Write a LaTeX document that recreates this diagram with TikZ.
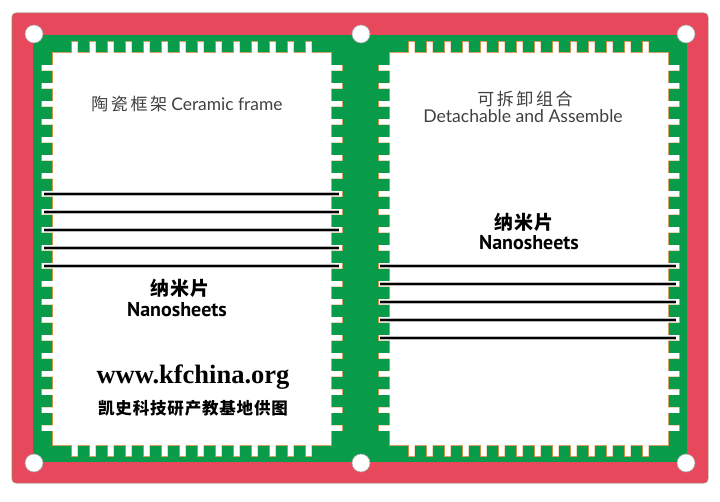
\documentclass[tikz,border=0pt]{standalone}
\usepackage{fontspec}
\setmainfont{Liberation Serif}
\newfontfamily\cjkfont{Noto Sans CJK SC}
\newfontfamily\cjkwide[LetterSpace=15]{Noto Sans CJK SC}
\newfontfamily\cjktight[LetterSpace=5]{Noto Sans CJK SC}
\newfontfamily\lightfont{Lato}
\newfontfamily\sheetfont{PT Sans}
\usepackage{tikz}

\definecolor{boardred}{RGB}{232,72,92}
\definecolor{boardgreen}{RGB}{8,156,74}
\definecolor{padedge}{RGB}{206,146,72}

\tikzset{
  paneledge/.style={draw=padedge,line width=1.4pt},
  panelfill/.style={fill=white},
  hole/.style={draw=gray!70,fill=white,line width=.6pt},
  sheet/.style={line width=2.6pt,preaction={draw=gray!55,line width=3.6pt}},
  thin label/.style={inner sep=0pt,text=black!75},
  bold label/.style={inner sep=0pt,text=black}
}

\begin{document}
\begin{tikzpicture}[x=1pt,y=-1pt]
  \useasboundingbox (0,0) rectangle (720,502);
  % board
  \draw[fill=boardred,draw=gray!60!brown,line width=.6pt,rounded corners=4pt] (12,13) rectangle (708,483);
  \fill[boardgreen] (33,35) rectangle (687,462);
  % white panels with their notches: edge first, then fill
  \foreach \l/\r in {53/331,390/668}
    \foreach \look in {paneledge,panelfill}
      \path[\look] (\l,53) rectangle (\r,445)
        \foreach \k in {0,...,13}{ (\l+19+18*\k,42) rectangle ++(5.5,11) (\l+19+18*\k,445) rectangle ++(5.5,11) }
        \foreach \k in {0,...,20}{ (\l-11,65.25+18*\k) rectangle ++(11,5.5) (\r,65.25+18*\k) rectangle ++(11,5.5) };
  % mounting holes
  \foreach \x in {34,361,686}
    \foreach \y in {34,463}
      \draw[hole] (\x,\y) circle (9);
  % nanosheets
  \foreach \y in {194,212,...,266}
    \draw[sheet] (44,\y) -- (339,\y);
  \foreach \y in {266,284,...,338}
    \draw[sheet] (380,\y) -- (676,\y);
  % texts
  \node[thin label] (ceramic) at (187,104) {\fontsize{17}{19}\selectfont{\cjkwide 陶瓷框架} {\fontsize{17.4}{19}\lightfont Ceramic frame}};
  \node[thin label] (detach cn) at (525,99) {\fontsize{17}{19}\selectfont\cjkwide 可拆卸组合};
  \node[thin label] (detach en) at (523,116) {\fontsize{17.6}{19}\selectfont\lightfont Detachable and Assemble};
  \node[bold label] (sheet cn left) at (180,288) {\fontsize{19}{21}\selectfont\cjktight\bfseries 纳米片};
  \node[bold label] (sheet en left) at (177,310) {\fontsize{20}{22}\selectfont\sheetfont\bfseries Nanosheets};
  \node[bold label] (sheet cn right) at (524,222) {\fontsize{19}{21}\selectfont\cjktight\bfseries 纳米片};
  \node[bold label] (sheet en right) at (529,243) {\fontsize{20}{22}\selectfont\sheetfont\bfseries Nanosheets};
  \node[bold label] (site) at (193,377) {\fontsize{26.5}{28}\selectfont\bfseries www.kfchina.org};
  \node[bold label] (credit) at (193,408) {\fontsize{16.5}{18}\selectfont\cjktight\bfseries 凯史科技研产教基地供图};
\end{tikzpicture}
\end{document}
